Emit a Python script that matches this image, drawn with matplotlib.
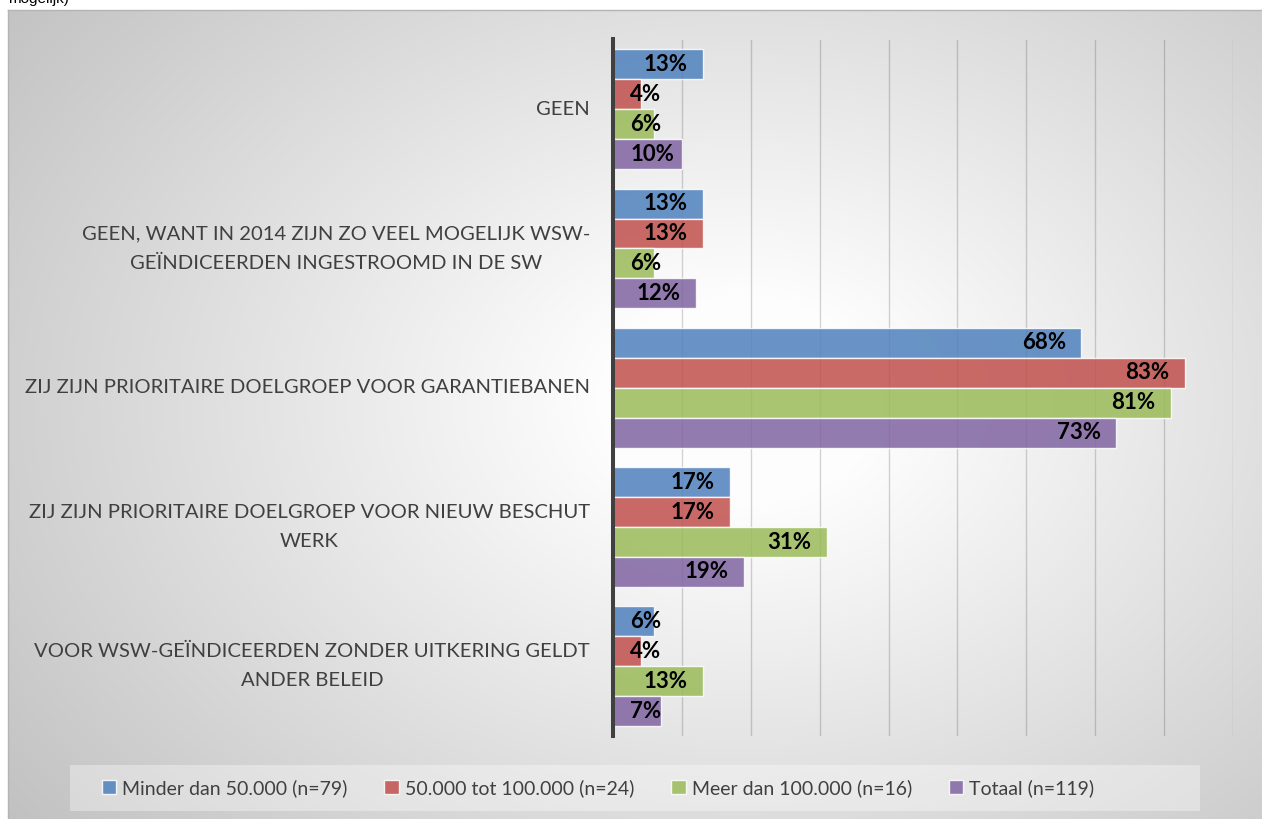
import numpy as np
import matplotlib
matplotlib.use("Agg")
import matplotlib.pyplot as plt
import matplotlib.transforms as mtransforms
from matplotlib.patches import Rectangle, Patch

# data
categories = [
    "GEEN",
    "GEEN, WANT IN 2014 ZIJN ZO VEEL MOGELIJK WSW-\nGEÏNDICEERDEN INGESTROOMD IN DE SW",
    "ZIJ ZIJN PRIORITAIRE DOELGROEP VOOR GARANTIEBANEN",
    "ZIJ ZIJN PRIORITAIRE DOELGROEP VOOR NIEUW BESCHUT\nWERK",
    "VOOR WSW-GEÏNDICEERDEN ZONDER UITKERING GELDT\nANDER BELEID",
]
series_names = ["Minder dan 50.000 (n=79)", "50.000 tot 100.000 (n=24)",
                "Meer dan 100.000 (n=16)", "Totaal (n=119)"]
minder = [13, 13, 68, 17, 6]
tussen = [4, 13, 83, 17, 4]
meer = [6, 6, 81, 31, 13]
totaal = [10, 12, 73, 19, 7]
values = [minder, tussen, meer, totaal]
colors = ["#4f81bd", "#c0504d", "#9bbb59", "#8064a2"]

W, H = 1262, 819
fig = plt.figure(figsize=(W / 100, H / 100), dpi=100)
fig.patch.set_facecolor("white")

# gradient background of the chart area
bg = fig.add_axes([8 / W, 0, 1 - 8 / W, 1 - 10 / H])
yy, xx = np.mgrid[10:H, 8:W]
r = np.sqrt(((xx - 740) / 650.0) ** 2 + ((yy - 400) / 480.0) ** 2)
t = np.clip((r - 0.2) / 1.25, 0, 1)
v = (254 - 62 * t) / 255.0
img = np.dstack([v, v, v])
bg.imshow(img, aspect="auto", extent=[0, 1, 0, 1], origin="upper")
bg.set_xlim(0, 1)
bg.set_ylim(0, 1)
bg.set_xticks([])
bg.set_yticks([])
for s in bg.spines.values():
    s.set_color("#b4b4b4")
    s.set_linewidth(1)
bg.spines["right"].set_visible(False)
bg.spines["bottom"].set_visible(False)

fig.text(8 / W, 1 - 3 / H, "mogelijk)", fontsize=11, family="Liberation Sans",
         va="baseline", ha="left", color="black")

ax = fig.add_axes([613 / W, 1 - 736 / H, (1233 - 613) / W, (736 - 39.5) / H])
ax.patch.set_alpha(0)
y = np.arange(len(categories))
h = 0.215
for i, (vals, c) in enumerate(zip(values, colors)):
    ax.barh(y + (i - 1.5) * h, vals, height=h, color=c, alpha=0.85,
            edgecolor=(1, 1, 1, 0.45), linewidth=1, zorder=3)

ax.set_xlim(0, 90)
ax.set_ylim(4.5, -0.5)
ax.set_xticks(np.arange(10, 91, 10))
ax.xaxis.grid(True, color="black", alpha=0.17, linewidth=1)
ax.tick_params(axis="x", length=0, labelbottom=False)
ax.set_yticks([])
for s in ["top", "right", "bottom"]:
    ax.spines[s].set_visible(False)
ax.spines["left"].set_color("#404040")
ax.spines["left"].set_linewidth(2.9)
ax.spines["left"].set_zorder(5)

# category labels
lab_tr = mtransforms.blended_transform_factory(ax.transAxes, ax.transData)
lab_tr = lab_tr + mtransforms.ScaledTranslation(-23 / 100, 0, fig.dpi_scale_trans)
for yi, cat in zip(y, categories):
    ax.text(0, yi, cat, transform=lab_tr, ha="right", va="center",
            multialignment="center", linespacing=1.85, fontsize=14.6,
            family="Lato", color="#404040", clip_on=False)

# value labels (inside end, pushed right if the bar is too short)
fig.canvas.draw()
rend = fig.canvas.get_renderer()
x0_px = ax.transData.transform((0, 0))[0]
for i, vals in enumerate(values):
    for j, val in enumerate(vals):
        yc = y[j] + (i - 1.5) * h
        txt = ax.annotate(f"{val}%", (val, yc), xytext=(-11, 0), textcoords="offset points",
                          ha="right", va="center", fontsize=16, fontweight="bold",
                          family="Lato", color="black", zorder=6)
        bb = txt.get_window_extent(rend)
        if bb.x0 < x0_px + 17:
            txt.remove()
            ax.annotate(f"{val}%", (0, yc), xytext=(12.5, 0), textcoords="offset points",
                        ha="left", va="center", fontsize=16, fontweight="bold",
                        family="Lato", color="black", zorder=6)

# legend box
fig.patches.append(Rectangle((70 / W, 1 - 811 / H), (1200 - 70) / W, 46 / H,
                             transform=fig.transFigure, facecolor="white",
                             alpha=0.35, edgecolor="none"))
handles = [Patch(facecolor=c, edgecolor=(1, 1, 1, 0.6), alpha=0.85, label=n)
           for c, n in zip(colors, series_names)]
leg = fig.legend(handles=handles, loc="center", bbox_to_anchor=(598 / W, 1 - 788 / H),
                 ncol=4, frameon=False, prop={"family": "Lato", "size": 14},
                 handlelength=0.75, handleheight=0.75, handletextpad=0.3,
                 columnspacing=1.9)
for tx in leg.get_texts():
    tx.set_color("#404040")

fig.savefig("out.png", dpi=100)
